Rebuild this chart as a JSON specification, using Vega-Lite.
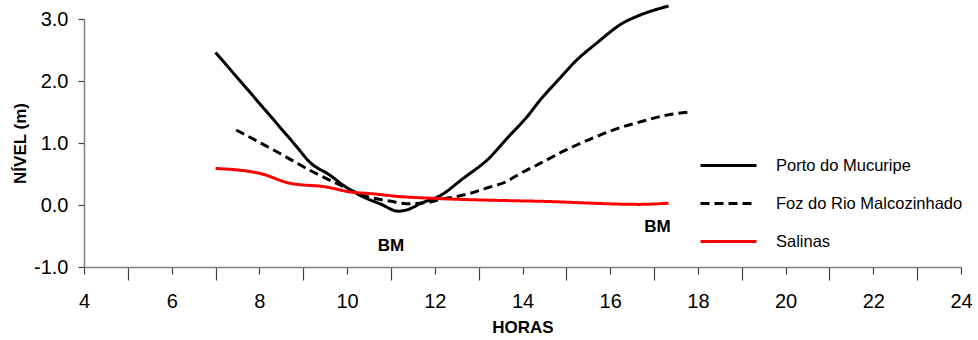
{
  "$schema": "https://vega.github.io/schema/vega-lite/v6.json",
  "width": 877,
  "height": 248,
  "autosize": {"type": "none"},
  "padding": {"left": 84, "top": 19, "right": 17, "bottom": 73},
  "background": "white",
  "config": {
    "view": {"stroke": null},
    "font": "Liberation Sans",
    "axis": {"grid": false, "domainColor": "#808080", "domainWidth": 1.5, "tickColor": "#404040", "tickWidth": 1.2, "labelColor": "#000", "titleColor": "#000", "labelFont": "Liberation Sans", "titleFont": "Liberation Sans", "labelFontSize": 20, "titleFontSize": 17, "titleFontWeight": "bold"}
  },
  "datasets": {
    "serie": [
      {"hora": 7.0, "nivel": 2.46, "serie": "Porto do Mucuripe"},
      {"hora": 7.94, "nivel": 1.69, "serie": "Porto do Mucuripe"},
      {"hora": 8.85, "nivel": 0.94, "serie": "Porto do Mucuripe"},
      {"hora": 9.15, "nivel": 0.69, "serie": "Porto do Mucuripe"},
      {"hora": 9.61, "nivel": 0.48, "serie": "Porto do Mucuripe"},
      {"hora": 9.91, "nivel": 0.32, "serie": "Porto do Mucuripe"},
      {"hora": 10.37, "nivel": 0.13, "serie": "Porto do Mucuripe"},
      {"hora": 10.75, "nivel": 0.02, "serie": "Porto do Mucuripe"},
      {"hora": 11.17, "nivel": -0.10, "serie": "Porto do Mucuripe"},
      {"hora": 11.4, "nivel": -0.07, "serie": "Porto do Mucuripe"},
      {"hora": 11.66, "nivel": 0.02, "serie": "Porto do Mucuripe"},
      {"hora": 12.12, "nivel": 0.15, "serie": "Porto do Mucuripe"},
      {"hora": 12.65, "nivel": 0.43, "serie": "Porto do Mucuripe"},
      {"hora": 13.26, "nivel": 0.77, "serie": "Porto do Mucuripe"},
      {"hora": 13.64, "nivel": 1.07, "serie": "Porto do Mucuripe"},
      {"hora": 14.1, "nivel": 1.42, "serie": "Porto do Mucuripe"},
      {"hora": 14.4, "nivel": 1.69, "serie": "Porto do Mucuripe"},
      {"hora": 14.78, "nivel": 1.99, "serie": "Porto do Mucuripe"},
      {"hora": 15.24, "nivel": 2.34, "serie": "Porto do Mucuripe"},
      {"hora": 15.69, "nivel": 2.61, "serie": "Porto do Mucuripe"},
      {"hora": 16.3, "nivel": 2.94, "serie": "Porto do Mucuripe"},
      {"hora": 16.6, "nivel": 3.04, "serie": "Porto do Mucuripe"},
      {"hora": 17.33, "nivel": 3.21, "serie": "Porto do Mucuripe"},
      {"hora": 7.47, "nivel": 1.21, "serie": "Foz do Rio Malcozinhado"},
      {"hora": 8.47, "nivel": 0.83, "serie": "Foz do Rio Malcozinhado"},
      {"hora": 9.15, "nivel": 0.56, "serie": "Foz do Rio Malcozinhado"},
      {"hora": 9.91, "nivel": 0.30, "serie": "Foz do Rio Malcozinhado"},
      {"hora": 10.44, "nivel": 0.14, "serie": "Foz do Rio Malcozinhado"},
      {"hora": 11.0, "nivel": 0.06, "serie": "Foz do Rio Malcozinhado"},
      {"hora": 11.36, "nivel": 0.02, "serie": "Foz do Rio Malcozinhado"},
      {"hora": 11.89, "nivel": 0.05, "serie": "Foz do Rio Malcozinhado"},
      {"hora": 12.12, "nivel": 0.09, "serie": "Foz do Rio Malcozinhado"},
      {"hora": 12.65, "nivel": 0.16, "serie": "Foz do Rio Malcozinhado"},
      {"hora": 13.26, "nivel": 0.29, "serie": "Foz do Rio Malcozinhado"},
      {"hora": 13.64, "nivel": 0.38, "serie": "Foz do Rio Malcozinhado"},
      {"hora": 13.83, "nivel": 0.46, "serie": "Foz do Rio Malcozinhado"},
      {"hora": 14.4, "nivel": 0.67, "serie": "Foz do Rio Malcozinhado"},
      {"hora": 14.97, "nivel": 0.88, "serie": "Foz do Rio Malcozinhado"},
      {"hora": 15.54, "nivel": 1.06, "serie": "Foz do Rio Malcozinhado"},
      {"hora": 16.11, "nivel": 1.22, "serie": "Foz do Rio Malcozinhado"},
      {"hora": 16.68, "nivel": 1.34, "serie": "Foz do Rio Malcozinhado"},
      {"hora": 17.29, "nivel": 1.45, "serie": "Foz do Rio Malcozinhado"},
      {"hora": 17.82, "nivel": 1.50, "serie": "Foz do Rio Malcozinhado"},
      {"hora": 7.0, "nivel": 0.59, "serie": "Salinas"},
      {"hora": 8.01, "nivel": 0.51, "serie": "Salinas"},
      {"hora": 8.7, "nivel": 0.35, "serie": "Salinas"},
      {"hora": 9.53, "nivel": 0.29, "serie": "Salinas"},
      {"hora": 10.07, "nivel": 0.21, "serie": "Salinas"},
      {"hora": 10.6, "nivel": 0.18, "serie": "Salinas"},
      {"hora": 11.13, "nivel": 0.14, "serie": "Salinas"},
      {"hora": 11.89, "nivel": 0.11, "serie": "Salinas"},
      {"hora": 13.71, "nivel": 0.07, "serie": "Salinas"},
      {"hora": 14.4, "nivel": 0.06, "serie": "Salinas"},
      {"hora": 16.68, "nivel": 0.01, "serie": "Salinas"},
      {"hora": 17.33, "nivel": 0.03, "serie": "Salinas"}
    ],
    "rotulos": [
      {"hora": 11.0, "nivel": -0.743, "texto": "BM"},
      {"hora": 17.08, "nivel": -0.441, "texto": "BM"}
    ]
  },
  "layer": [
    {
      "data": {"name": "serie"},
      "mark": {"type": "line", "strokeWidth": 3, "interpolate": "monotone", "clip": false},
      "encoding": {
        "x": {
          "field": "hora", "type": "quantitative",
          "scale": {"domain": [4, 24], "nice": false, "zero": false},
          "axis": {
            "title": "HORAS",
            "values": [4,5,6,7,8,9,10,11,12,13,14,15,16,17,18,19,20,21,22,23,24],
            "labelExpr": "datum.value % 2 === 0 ? datum.label : ''",
            "tickSize": {"condition": {"test": "datum.value % 2 === 1", "value": 13}, "value": 7},
            "labelPadding": 17,
            "labelFlush": false,
            "labelOverlap": false,
            "titleY": 65,
            "titleBaseline": "alphabetic"
          }
        },
        "y": {
          "field": "nivel", "type": "quantitative",
          "scale": {"domain": [-1, 3], "nice": false, "zero": false},
          "axis": {
            "title": "NÍVEL (m)",
            "values": [-1,-0.5,0,0.5,1,1.5,2,2.5,3],
            "format": ".1f",
            "labelExpr": "datum.value % 1 === 0 ? replace(datum.label, '−', '-') : ''",
            "tickSize": 6,
            "labelPadding": 10,
            "labelFlush": false,
            "labelOverlap": false,
            "titleX": -64,
            "titleY": 124,
            "titleAlign": "center",
            "titleBaseline": "middle",
            "titleAngle": -90
          }
        },
        "color": {
          "field": "serie", "type": "nominal",
          "scale": {"domain": ["Porto do Mucuripe", "Foz do Rio Malcozinhado", "Salinas"], "range": ["#000000", "#000000", "#ff0000"]},
          "legend": {
            "title": null, "orient": "none", "legendX": 615, "legendY": 117,
            "symbolType": "stroke", "symbolSize": 3136, "symbolStrokeWidth": 3,
            "labelFontSize": 16.5, "labelFont": "Liberation Sans", "labelColor": "#000", "labelLimit": 0,
            "labelOffset": 18, "rowPadding": -22.5, "padding": 0
          }
        },
        "strokeDash": {
          "field": "serie", "type": "nominal",
          "scale": {"domain": ["Porto do Mucuripe", "Foz do Rio Malcozinhado", "Salinas"], "range": [[1, 0], [9, 5], [1, 0]]},
          "legend": {
            "title": null, "orient": "none", "legendX": 615, "legendY": 117,
            "symbolType": "stroke", "symbolSize": 3136, "symbolStrokeWidth": 3,
            "labelFontSize": 16.5, "labelFont": "Liberation Sans", "labelColor": "#000", "labelLimit": 0,
            "labelOffset": 18, "rowPadding": -22.5, "padding": 0
          }
        }
      }
    },
    {
      "data": {"name": "rotulos"},
      "mark": {"type": "text", "font": "Liberation Sans", "fontSize": 17, "fontWeight": "bold", "align": "center", "baseline": "alphabetic", "color": "#000"},
      "encoding": {
        "x": {"field": "hora", "type": "quantitative"},
        "y": {"field": "nivel", "type": "quantitative"},
        "text": {"field": "texto"}
      }
    }
  ]
}
